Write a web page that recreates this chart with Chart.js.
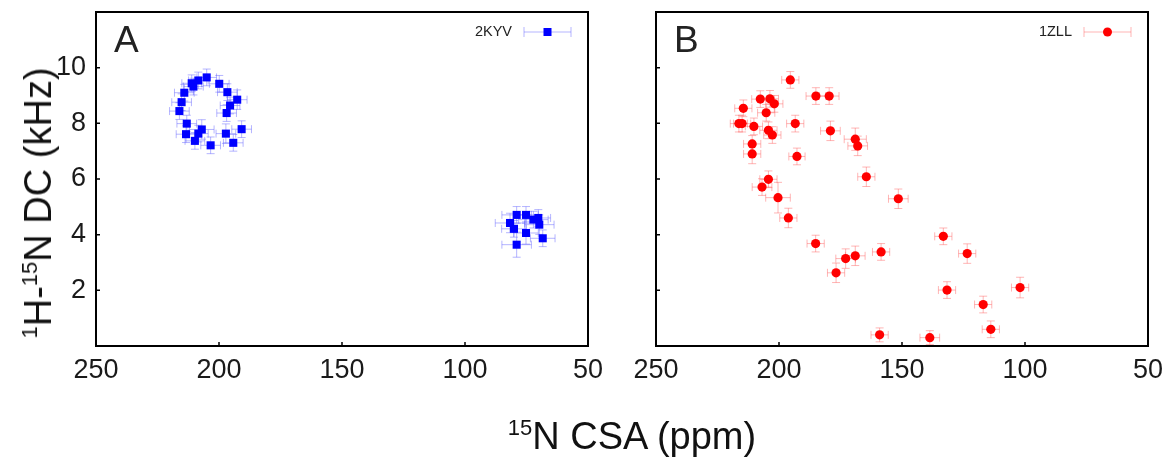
<!DOCTYPE html>
<html>
<head>
<meta charset="utf-8">
<script src="https://cdn.jsdelivr.net/npm/chart.js@4.4.0/dist/chart.umd.min.js"></script>
<style>
  body { margin: 0; background: #fff; font-family: "Liberation Sans", Arial, sans-serif; }
  #wrap { position: relative; width: 1164px; height: 457px; overflow: hidden; }
  canvas { position: absolute; top: 0; }
  #chartA { left: 0; }
  #chartB { left: 610px; }
  .ttl { position: absolute; color: #111; font-size: 38px; white-space: nowrap; line-height: 1; }
  .ttl sup { font-size: 22px; vertical-align: 0; position: relative; top: -14px; }
  #xTitle { left: 632px; top: 436px; transform: translate(-50%, -50%); }
  #yTitle { left: 38px; top: 203px; transform: translate(-50%, -50%) rotate(-90deg); }
</style>
</head>
<body>
<div id="wrap">
  <canvas id="chartA" width="610" height="457"></canvas>
  <canvas id="chartB" width="554" height="457"></canvas>
  <div class="ttl" id="xTitle"><sup>15</sup>N CSA (ppm)</div>
  <div class="ttl" id="yTitle"><sup>1</sup>H-<sup>15</sup>N DC (kHz)</div>
</div>
<script>
// tick labels
const xTicks = [250, 200, 150, 100, 50];
const yTicks = [2, 4, 6, 8, 10];

// panel A: 2KYV
const labelA = "2KYV";
const csaA = [205.0, 208.4, 211.1, 210.4, 199.9, 196.6, 214.1, 215.2, 216.1, 192.6, 195.5,
  196.9, 213.1, 213.4, 207.0, 208.4, 209.8, 203.4, 197.2, 190.8, 194.2,
  79.0, 75.2, 81.7, 80.1, 72.2, 70.2, 69.8, 75.2, 68.4, 79.0];
const dcA = [9.65, 9.54, 9.44, 9.32, 9.42, 9.12, 9.10, 8.76, 8.44, 8.85, 8.64,
  8.37, 7.99, 7.61, 7.78, 7.63, 7.37, 7.21, 7.63, 7.79, 7.30,
  4.71, 4.71, 4.42, 4.21, 4.54, 4.60, 4.36, 4.06, 3.87, 3.64];
const csaErrA = [4, 4, 4, 4, 4, 4, 4, 4, 4, 4, 4,
  4, 4, 4, 5, 4, 4, 4, 4, 4, 4,
  6, 5, 6, 5, 6, 5, 6, 5, 5, 6];
const dcErrA = [0.3, 0.3, 0.3, 0.3, 0.3, 0.3, 0.3, 0.3, 0.3, 0.35, 0.3,
  0.3, 0.3, 0.3, 0.35, 0.3, 0.3, 0.3, 0.35, 0.3, 0.3,
  0.3, 0.3, 0.35, 0.3, 0.3, 0.3, 0.35, 0.4, 0.3, 0.45];

// panel B: 1ZLL
const labelB = "1ZLL";
const csaB = [195.4, 185.0, 179.6, 207.6, 203.7, 201.9, 214.5, 205.2, 215.0, 216.3,
  210.2, 193.4, 204.3, 202.7, 179.1, 169.0, 168.0, 210.9, 210.9, 192.7,
  164.5, 204.3, 206.9, 200.4, 196.2, 151.5, 185.1, 172.9, 169.0, 176.8,
  158.5, 133.2, 123.5, 131.7, 117.0, 113.9, 159.1, 138.7, 102.0];
const dcB = [9.56, 8.98, 8.98, 8.87, 8.88, 8.70, 8.54, 8.38, 7.99, 7.99,
  7.89, 7.99, 7.75, 7.58, 7.73, 7.43, 7.19, 7.26, 6.90, 6.81,
  6.08, 5.99, 5.71, 5.33, 4.60, 5.29, 3.68, 3.14, 3.24, 2.63,
  3.38, 3.94, 3.32, 2.01, 1.49, 0.60, 0.40, 0.30, 2.10];
const csaErrB = [3.5, 4, 4, 3.5, 3.5, 3.5, 3.5, 3.5, 3.5, 3.5,
  3.5, 3.5, 3.5, 3.5, 4, 4.5, 4, 3.5, 3.5, 3.3,
  3.5, 3.5, 4, 5, 3.5, 4, 3.5, 4, 4, 3.5,
  3.5, 3.5, 3.5, 3.5, 3.5, 3.5, 3.5, 4, 3.5];
const dcErrB = [0.3, 0.3, 0.3, 0.3, 0.3, 0.3, 0.3, 0.3, 0.3, 0.3,
  0.3, 0.3, 0.3, 0.3, 0.35, 0.4, 0.35, 0.3, 0.35, 0.3,
  0.35, 0.3, 0.3, 0.55, 0.35, 0.35, 0.3, 0.35, 0.35, 0.35,
  0.3, 0.3, 0.35, 0.3, 0.3, 0.3, 0.25, 0.25, 0.37];

const tickFont = { family: "'Liberation Sans', Arial, sans-serif", size: 27 };

// error bars, frame, inner ticks, panel letter and legend
const framePlugin = {
  id: "frame",
  beforeDatasetsDraw(chart, args, o) {
    const ctx = chart.ctx, x = chart.scales.x, y = chart.scales.y;
    const ds = chart.data.datasets[0].data;
    ctx.save();
    ctx.strokeStyle = o.errColor;
    ctx.lineWidth = 1;
    ds.forEach((p, i) => {
      const px = x.getPixelForValue(p.x), py = y.getPixelForValue(p.y);
      const x1 = x.getPixelForValue(p.x - o.errX[i]), x2 = x.getPixelForValue(p.x + o.errX[i]);
      const y1 = y.getPixelForValue(p.y - o.errY[i]), y2 = y.getPixelForValue(p.y + o.errY[i]);
      ctx.beginPath();
      ctx.moveTo(x1, py); ctx.lineTo(x2, py);
      ctx.moveTo(x1, py - 4); ctx.lineTo(x1, py + 4);
      ctx.moveTo(x2, py - 4); ctx.lineTo(x2, py + 4);
      ctx.moveTo(px, y1); ctx.lineTo(px, y2);
      ctx.moveTo(px - 4, y1); ctx.lineTo(px + 4, y1);
      ctx.moveTo(px - 4, y2); ctx.lineTo(px + 4, y2);
      ctx.stroke();
    });
    ctx.restore();
  },
  afterDraw(chart, args, o) {
    const ctx = chart.ctx, a = chart.chartArea;
    const x = chart.scales.x, y = chart.scales.y;
    ctx.save();
    ctx.strokeStyle = "#000";
    ctx.lineWidth = 2;
    ctx.strokeRect(a.left, a.top, a.right - a.left, a.bottom - a.top);
    ctx.lineWidth = 1.5;
    ctx.beginPath();
    xTicks.forEach(v => {
      const px = x.getPixelForValue(v);
      ctx.moveTo(px, a.bottom); ctx.lineTo(px, a.bottom - 4);
    });
    yTicks.forEach(v => {
      const py = y.getPixelForValue(v);
      ctx.moveTo(a.left, py); ctx.lineTo(a.left + 4, py);
    });
    ctx.stroke();

    // panel letter
    ctx.fillStyle = "#222";
    ctx.font = "37px 'Liberation Sans', Arial, sans-serif";
    ctx.textBaseline = "alphabetic";
    ctx.textAlign = "left";
    ctx.fillText(o.letter, a.left + 18, a.top + 40);

    // legend
    const ly = a.top + 20;
    ctx.font = "14.5px 'Liberation Sans', Arial, sans-serif";
    ctx.textAlign = "right";
    ctx.textBaseline = "middle";
    ctx.fillStyle = "#222";
    ctx.fillText(o.label, a.right - 76, ly);
    const l1 = a.right - 64, l2 = a.right - 17;
    ctx.strokeStyle = o.errColor;
    ctx.lineWidth = 1;
    ctx.beginPath();
    ctx.moveTo(l1, ly); ctx.lineTo(l2, ly);
    ctx.moveTo(l1, ly - 5); ctx.lineTo(l1, ly + 5);
    ctx.moveTo(l2, ly - 5); ctx.lineTo(l2, ly + 5);
    ctx.stroke();
    ctx.fillStyle = o.color;
    const mx = (l1 + l2) / 2;
    if (o.style === "rect") {
      ctx.fillRect(mx - 4, ly - 4, 8, 8);
    } else {
      ctx.beginPath();
      ctx.arc(mx, ly, 4.5, 0, Math.PI * 2);
      ctx.fill();
    }
    ctx.restore();
  }
};

function makeChart(id, csa, dc, errX, errY, opts) {
  return new Chart(document.getElementById(id), {
    type: "scatter",
    data: {
      datasets: [{
        label: opts.label,
        data: csa.map((v, i) => ({ x: v, y: dc[i] })),
        pointStyle: opts.style,
        pointRadius: opts.radius,
        pointBackgroundColor: opts.color,
        pointBorderWidth: 0,
        showLine: false
      }]
    },
    options: {
      responsive: false,
      animation: false,
      events: [],
      layout: { padding: { top: 12, right: opts.padRight, bottom: 51, left: 0 } },
      plugins: {
        legend: { display: false },
        tooltip: { enabled: false },
        frame: {
          letter: opts.letter, label: opts.label, style: opts.style,
          color: opts.color, errColor: opts.errColor, errX: errX, errY: errY
        }
      },
      scales: {
        x: {
          type: "linear", reverse: true, min: 50, max: 250,
          afterBuildTicks: s => { s.ticks = xTicks.map(v => ({ value: v })); },
          afterFit: s => { s.height = 60; s.paddingLeft = 0; s.paddingRight = 0; },
          grid: { display: false, drawTicks: false },
          border: { display: false },
          ticks: { font: tickFont, color: "#1a1a1a", padding: 8, maxRotation: 0 }
        },
        y: {
          type: "linear", min: 0, max: 12,
          afterBuildTicks: s => { s.ticks = yTicks.map(v => ({ value: v })); },
          afterFit: s => { s.width = opts.yWidth; s.paddingTop = 0; s.paddingBottom = 0; },
          grid: { display: false, drawTicks: false },
          border: { display: false },
          ticks: { display: opts.yLabels, font: tickFont, color: "#1a1a1a", padding: 10 }
        }
      }
    },
    plugins: [framePlugin]
  });
}

makeChart("chartA", csaA, dcA, csaErrA, dcErrA, {
  label: labelA, letter: "A", style: "rect", radius: 5.7,
  color: "#0000ff", errColor: "rgba(90,90,255,0.45)",
  yWidth: 96, yLabels: true, padRight: 22
});
makeChart("chartB", csaB, dcB, csaErrB, dcErrB, {
  label: labelB, letter: "B", style: "circle", radius: 4.6,
  color: "#ff0000", errColor: "rgba(255,90,90,0.45)",
  yWidth: 46, yLabels: false, padRight: 16
});
</script>
</body>
</html>
